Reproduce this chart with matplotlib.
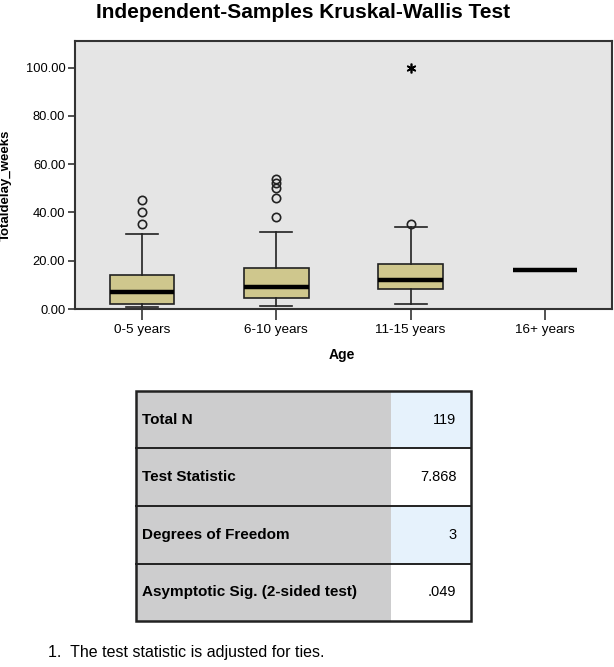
import matplotlib
matplotlib.use("Agg")
import matplotlib.pyplot as plt
from matplotlib.patches import Rectangle

plt.rcParams['font.family'] = ['Liberation Sans', 'DejaVu Sans']

# ---------------- data ----------------
categories = ["0-5 years", "6-10 years", "11-15 years", "16+ years"]
q1 = [1.9, 4.5, 8.1, 16.0]
medians = [7.0, 9.1, 12.0, 16.0]
q3 = [13.9, 17.0, 18.5, 16.0]
whisker_low = [1.0, 1.1, 2.0, 16.0]
whisker_high = [31.0, 32.0, 34.0, 16.0]
outliers = [[35.0, 40.0, 45.0], [38.0, 46.0, 50.0, 52.0, 54.0], [35.0], []]
extremes = [[], [], [100.0], []]
yticks = [0, 20, 40, 60, 80, 100]

table_labels = ["Total N", "Test Statistic", "Degrees of Freedom",
                "Asymptotic Sig. (2-sided test)"]
table_values = ["119", "7.868", "3", ".049"]
footnote = "1.  The test statistic is adjusted for ties."
title = "Independent-Samples Kruskal-Wallis Test"

# ---------------- figure ----------------
W, H = 614, 667
fig = plt.figure(figsize=(W / 100, H / 100), dpi=100)
fig.patch.set_facecolor("white")

def px_axes(l, t, r, b):
    return fig.add_axes([l / W, 1 - b / H, (r - l) / W, (b - t) / H])

ax = px_axes(75, 41, 612, 309)
ax.set_facecolor("#E5E5E5")

stats = []
for i, c in enumerate(categories):
    stats.append(dict(label=c, med=medians[i], q1=q1[i], q3=q3[i],
                      whislo=whisker_low[i], whishi=whisker_high[i],
                      fliers=outliers[i]))
positions = list(range(len(categories)))
box_color = "#CFC78D"
edge = "#222222"
bp = ax.bxp(stats, positions=positions, widths=0.48, capwidths=0.24,
            patch_artist=True, showfliers=True,
            boxprops=dict(facecolor=box_color, edgecolor=edge, linewidth=1.2),
            medianprops=dict(color="black", linewidth=3.2, solid_capstyle="butt"),
            whiskerprops=dict(color=edge, linewidth=1.2),
            capprops=dict(color=edge, linewidth=1.2),
            flierprops=dict(marker="o", markerfacecolor="none",
                            markeredgecolor=edge, markersize=6,
                            markeredgewidth=1.2, linestyle="none"))
# hide the degenerate box for the single-value group
for i in range(len(categories)):
    if q1[i] == q3[i]:
        bp["boxes"][i].set_visible(False)
        bp["whiskers"][2 * i].set_visible(False)
        bp["whiskers"][2 * i + 1].set_visible(False)
        bp["caps"][2 * i].set_visible(False)
        bp["caps"][2 * i + 1].set_visible(False)

for i, ex in enumerate(extremes):
    if ex:
        ax.plot([positions[i]] * len(ex), ex, linestyle="none",
                marker=(6, 2, 0), markersize=7, markeredgewidth=1.2,
                color="black")

ax.set_xlim(-0.5, len(categories) - 0.5)
ax.set_ylim(0, 111)
ax.set_yticks(yticks)
ax.set_yticklabels([f"{v:.2f}" for v in yticks], fontsize=9.3)
ax.set_xticks(positions)
ax.set_xticklabels(categories, fontsize=9.7)
ax.tick_params(axis="y", length=5, width=1.2, color="#333333", pad=2)
ax.tick_params(axis="x", length=8, width=1.2, color="#333333", pad=3)
for s in ax.spines.values():
    s.set_color("#333333")
    s.set_linewidth(1.5)

ax.set_ylabel("Totaldelay_weeks", fontsize=9.5, fontweight="bold")
ax.yaxis.set_label_coords(-0.117, 0.463)
ax.set_xlabel("Age", fontsize=10, fontweight="bold")
ax.xaxis.set_label_coords(0.497, -0.146)

fig.text(303 / W, 1 - 12 / H, title, fontsize=15, fontweight="bold",
         ha="center", va="center")

# ---------------- table ----------------
tax = px_axes(136, 391, 471, 621)
tax.set_xlim(0, 1)
tax.set_ylim(len(table_labels), 0)
tax.axis("off")
split = 0.761
n = len(table_labels)
for i in range(n):
    tax.add_patch(Rectangle((0, i), split, 1, facecolor="#CDCDCE",
                            edgecolor="none"))
    tax.add_patch(Rectangle((split, i), 1 - split, 1,
                            facecolor="#E6F2FC" if i % 2 == 0 else "white",
                            edgecolor="none"))
    tax.text(0.018, i + 0.5, table_labels[i], fontsize=11, fontweight="bold",
             ha="left", va="center")
    tax.text(0.957, i + 0.5, table_values[i], fontsize=10.5,
             ha="right", va="center")
for i in range(1, n):
    tax.plot([0, 1], [i, i], color="#222222", linewidth=1.4, clip_on=False)
tax.add_patch(Rectangle((0, 0), 1, n, facecolor="none", edgecolor="#222222",
                        linewidth=1.8, clip_on=False))

fig.text(48 / W, 1 - 652 / H, footnote, fontsize=11.5, ha="left",
         va="center")

fig.savefig("out.png", dpi=100)
